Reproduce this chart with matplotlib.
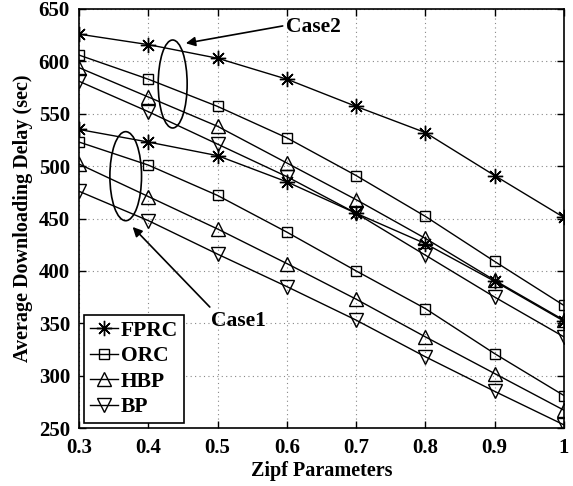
import matplotlib
matplotlib.use("Agg")
import matplotlib.pyplot as plt
from matplotlib.patches import Ellipse

plt.rcParams['font.family'] = ['Liberation Serif', 'DejaVu Serif']
plt.rcParams['font.weight'] = 'bold'

zipf = [0.3, 0.4, 0.5, 0.6, 0.7, 0.8, 0.9, 1.0]

# Case 2
fprc_c2 = [626, 616, 603, 583, 557, 532, 491, 451]
orc_c2 = [606, 583, 557, 527, 491, 452, 409, 367]
hbp_c2 = [594, 566, 538, 503, 468, 431, 391, 353]
bp_c2 = [581, 552, 521, 490, 455, 415, 375, 337]

# Case 1
fprc_c1 = [535, 523, 510, 485, 455, 426, 390, 352]
orc_c1 = [523, 501, 472, 437, 400, 364, 321, 281]
hbp_c1 = [502, 471, 440, 407, 373, 337, 302, 267]
bp_c1 = [476, 448, 416, 385, 353, 318, 285, 253]

labels = ["FPRC", "ORC", "HBP", "BP"]
xticks = [0.3, 0.4, 0.5, 0.6, 0.7, 0.8, 0.9, 1.0]
xticklabels = ["0.3", "0.4", "0.5", "0.6", "0.7", "0.8", "0.9", "1"]
yticks = [250, 300, 350, 400, 450, 500, 550, 600, 650]

fig = plt.figure(figsize=(5.73, 4.86), dpi=100)
ax = fig.add_axes([0.1379, 0.1193, 0.8463, 0.8622])

asterisk = (8, 2, 0)
styles = [
    dict(marker=asterisk, markersize=11),
    dict(marker='s', markersize=7.5),
    dict(marker='^', markersize=10),
    dict(marker='v', markersize=10),
]
common = dict(color='black', linewidth=1.0, markerfacecolor='none',
              markeredgecolor='black', markeredgewidth=1.0)

case2 = [fprc_c2, orc_c2, hbp_c2, bp_c2]
case1 = [fprc_c1, orc_c1, hbp_c1, bp_c1]
handles = []
for lab, st, y2, y1 in zip(labels, styles, case2, case1):
    h, = ax.plot(zipf, y2, label=lab, **st, **common)
    ax.plot(zipf, y1, **st, **common)
    handles.append(h)

ax.set_xlim(0.3, 1.0)
ax.set_ylim(250, 650)
ax.set_xticks(xticks)
ax.set_xticklabels(xticklabels)
ax.set_yticks(yticks)
ax.tick_params(direction='in', top=True, right=True, length=5, width=1.0,
               labelsize=15)
ax.tick_params(axis='x', pad=7)
ax.tick_params(axis='y', pad=6.5)
for lab in ax.get_xticklabels() + ax.get_yticklabels():
    lab.set_fontweight('bold')
ax.grid(True, linestyle=(0, (1, 3)), color='#888888', linewidth=0.8)
for sp in ax.spines.values():
    sp.set_linewidth(1.2)

ax.set_xlabel("Zipf Parameters", fontsize=14.5, fontweight='bold', labelpad=2)
ax.set_ylabel("Average Downloading Delay (sec)", fontsize=14.5,
              fontweight='bold', labelpad=4)

# Ellipses
ax.add_patch(Ellipse((0.4352, 578.4), 0.0418, 84, fill=False,
                     edgecolor='black', linewidth=1.2, zorder=5))
ax.add_patch(Ellipse((0.3674, 490.4), 0.0457, 85, fill=False,
                     edgecolor='black', linewidth=1.2, zorder=5))

# Annotations
ax.annotate("", xy=(0.4542, 617.3), xytext=(0.594, 633.8),
            arrowprops=dict(arrowstyle='-|>', color='black', lw=1.2,
                            mutation_scale=14, shrinkA=0, shrinkB=0))
ax.text(0.599, 632.5, "Case2", fontsize=15.5, fontweight='bold',
        ha='left', va='center')
ax.annotate("", xy=(0.3774, 441.9), xytext=(0.4888, 365.5),
            arrowprops=dict(arrowstyle='-|>', color='black', lw=1.2,
                            mutation_scale=14, shrinkA=0, shrinkB=0))
ax.text(0.4912, 352.4, "Case1", fontsize=15.5, fontweight='bold',
        ha='left', va='center')

leg = ax.legend(handles=handles, loc='lower left',
                prop={'weight': 'bold', 'size': 15.5},
                frameon=True, fancybox=False, edgecolor='black',
                handlelength=1.3, handletextpad=0.15, labelspacing=0.25,
                borderpad=0.25, borderaxespad=0.25)
leg.get_frame().set_linewidth(1.2)
leg.get_frame().set_alpha(1)

fig.savefig("out.png", dpi=100)
